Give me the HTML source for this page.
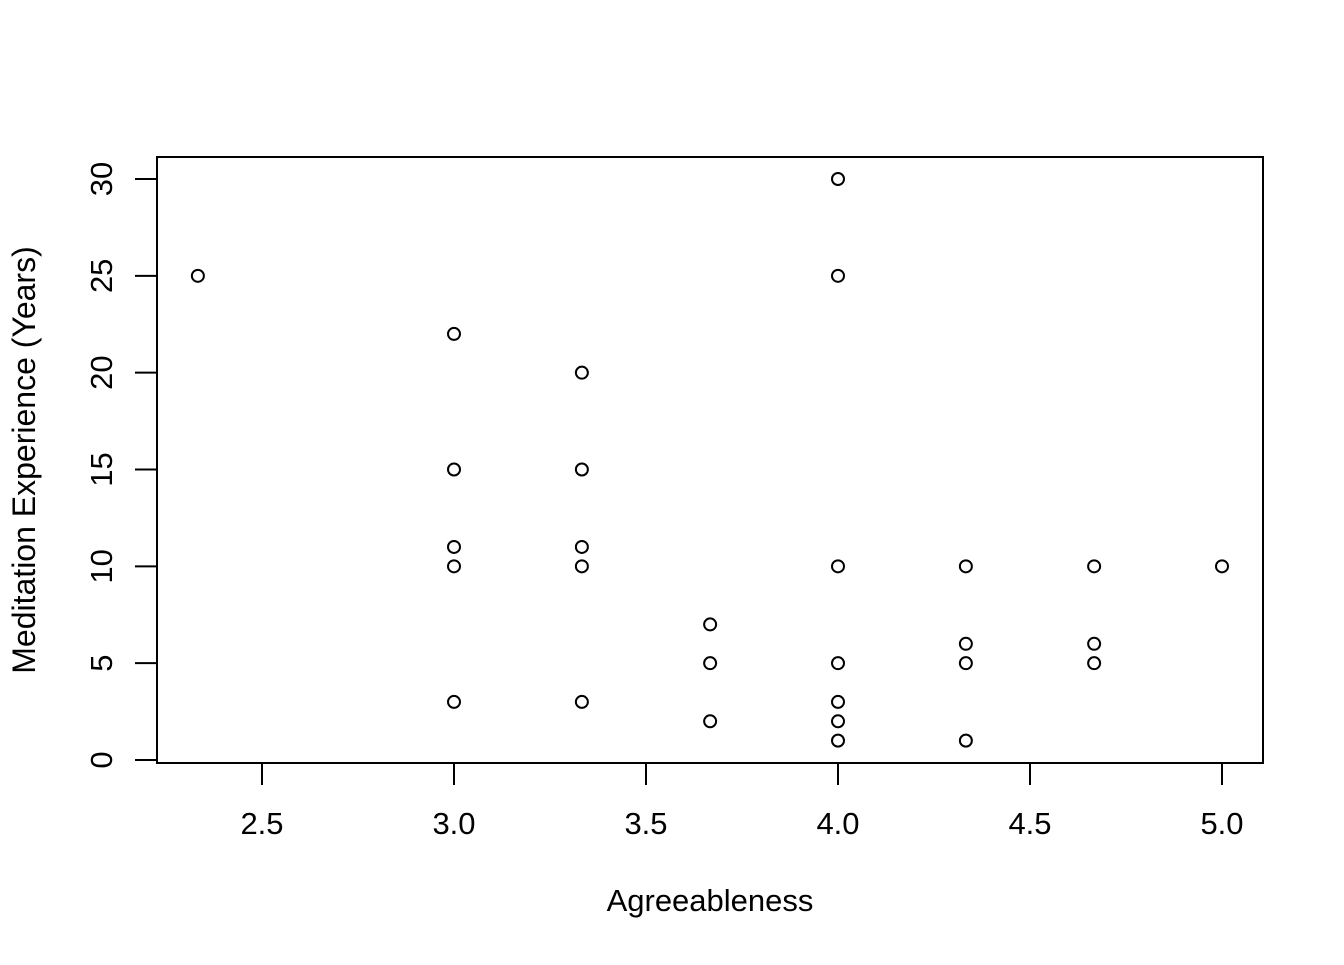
<!DOCTYPE html>
<html><head><meta charset="utf-8"><style>body{margin:0;background:#fff}svg text{font-family:"Liberation Sans",Arial,sans-serif;fill:#000}</style></head>
<body>
<svg id="chart" width="1344" height="960" xmlns="http://www.w3.org/2000/svg">
<rect x="157" y="157" width="1106" height="606" fill="none" stroke="#000" stroke-width="2"/>
<g id="xt"></g>
<g id="yt"></g>
<g id="pts"></g>
<text x="710" y="911" font-size="31" text-anchor="middle">Agreeableness</text>
<text transform="translate(35,460) rotate(-90)" font-size="32" text-anchor="middle">Meditation Experience (Years)</text>
</svg>
<script>
const xTicks=[2.5,3.0,3.5,4.0,4.5,5.0];
const xTickLabels=["2.5","3.0","3.5","4.0","4.5","5.0"];
const yTicks=[0,5,10,15,20,25,30];
const yTickLabels=["0","5","10","15","20","25","30"];
const agree=[2.333,3,3,3,3,3,3.333,3.333,3.333,3.333,3.333,3.667,3.667,3.667,4,4,4,4,4,4,4,4.333,4.333,4.333,4.333,4.667,4.667,4.667,5];
const years=[25,22,15,11,10,3,20,15,11,10,3,7,5,2,30,25,10,5,3,2,1,10,6,5,1,10,6,5,10];
const X=v=>262+(v-2.5)*384;
const Y=v=>760-v*19.367;
const NS="http://www.w3.org/2000/svg";
function mk(t,a,p){const e=document.createElementNS(NS,t);for(const k in a)e.setAttribute(k,a[k]);p.appendChild(e);return e;}
const xt=document.getElementById('xt'),yt=document.getElementById('yt'),pts=document.getElementById('pts');
mk('line',{x1:X(2.5),x2:X(5),y1:763,y2:763,stroke:'#000','stroke-width':2},xt);
xTicks.forEach((v,i)=>{
 const l=mk('line',{x1:X(v),x2:X(v),y1:763,y2:785,stroke:'#000','stroke-width':2},xt);
 
 
 const t=mk('text',{x:X(v),y:834,'font-size':31,'text-anchor':'middle'},xt);t.textContent=xTickLabels[i];
 
 
});
mk('line',{x1:157,x2:157,y1:Y(0),y2:Y(30),stroke:'#000','stroke-width':2},yt);
yTicks.forEach((v,i)=>{
 const l=mk('line',{x1:135,x2:157,y1:Y(v),y2:Y(v),stroke:'#000','stroke-width':2},yt);
 
 
 const t=mk('text',{transform:`translate(112,${Y(v)}) rotate(-90)`,'font-size':31,'text-anchor':'middle'},yt);t.textContent=yTickLabels[i];
 
 
});
agree.forEach((a,i)=>{
 const c=mk('circle',{cx:X(a),cy:Y(years[i]),r:6,fill:'none',stroke:'#000','stroke-width':2},pts);
 
 
});
</script>
</body></html>
